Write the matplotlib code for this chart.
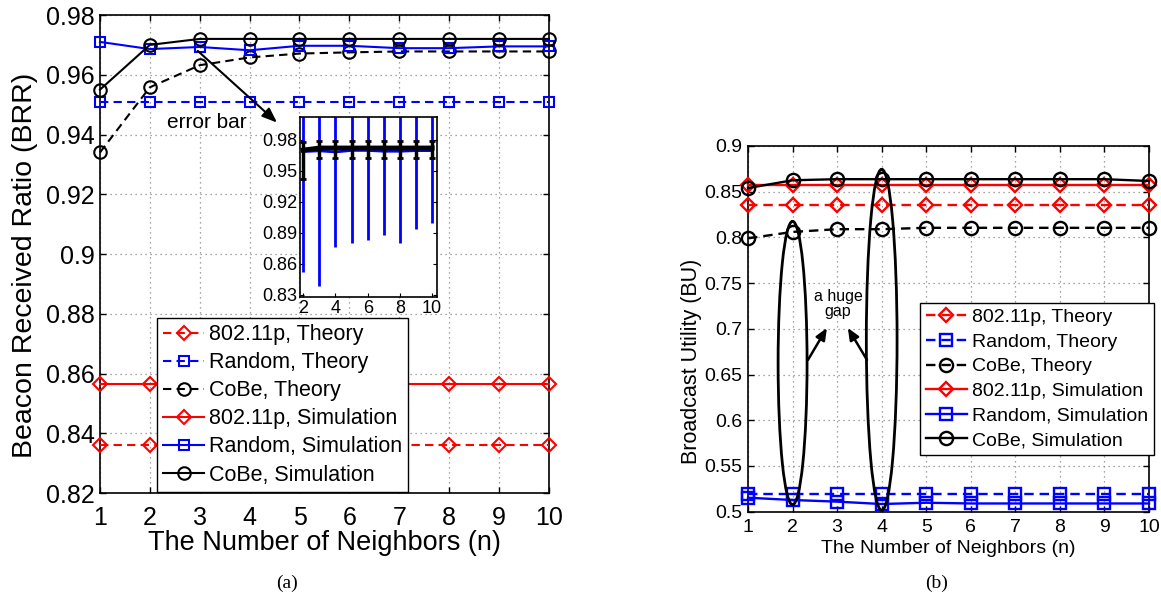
import numpy as np
import matplotlib.pyplot as plt
from matplotlib.patches import Ellipse

plt.rcParams['font.family'] = ['Liberation Sans', 'DejaVu Sans']

n = [1, 2, 3, 4, 5, 6, 7, 8, 9, 10]

# (a) Beacon Received Ratio
brr_p_theory = [0.836, 0.836, 0.836, 0.836, 0.836, 0.836, 0.836, 0.836, 0.836, 0.836]
brr_rand_theory = [0.951, 0.951, 0.951, 0.951, 0.951, 0.951, 0.951, 0.951, 0.951, 0.951]
brr_cobe_theory = [0.934, 0.9558, 0.9632, 0.9658, 0.9671, 0.9675, 0.9678, 0.9678, 0.9678, 0.9678]
brr_p_sim = [0.8565, 0.8565, 0.8565, 0.8565, 0.8565, 0.8565, 0.8565, 0.8565, 0.8565, 0.8565]
brr_rand_sim = [0.971, 0.9686, 0.9693, 0.9682, 0.9697, 0.9697, 0.9689, 0.9689, 0.9695, 0.9695]
brr_cobe_sim = [0.955, 0.970, 0.972, 0.972, 0.972, 0.972, 0.972, 0.972, 0.972, 0.972]

# inset error bars (n = 2..10)
n_err = [2, 3, 4, 5, 6, 7, 8, 9, 10]
rand_err = [0.116, 0.131, 0.092, 0.090, 0.087, 0.081, 0.089, 0.076, 0.070]
cobe_err_lo = [0.028, 0.010, 0.010, 0.010, 0.010, 0.010, 0.010, 0.010, 0.010]
cobe_err_hi = [0.008, 0.007, 0.007, 0.007, 0.007, 0.007, 0.007, 0.007, 0.007]

# (b) Broadcast Utility
bu_p_theory = [0.836, 0.836, 0.836, 0.836, 0.836, 0.836, 0.836, 0.836, 0.836, 0.836]
bu_rand_theory = [0.519, 0.519, 0.519, 0.519, 0.519, 0.519, 0.519, 0.519, 0.519, 0.519]
bu_cobe_theory = [0.799, 0.806, 0.809, 0.809, 0.8105, 0.8105, 0.8105, 0.8105, 0.8105, 0.8105]
bu_p_sim = [0.857, 0.857, 0.857, 0.857, 0.857, 0.857, 0.857, 0.857, 0.857, 0.857]
bu_rand_sim = [0.5153, 0.5128, 0.511, 0.5084, 0.5098, 0.509, 0.509, 0.509, 0.509, 0.509]
bu_cobe_sim = [0.854, 0.8625, 0.8637, 0.8637, 0.8637, 0.8637, 0.8637, 0.8637, 0.8637, 0.8617]

labels = ['802.11p, Theory', 'Random, Theory', 'CoBe, Theory',
          '802.11p, Simulation', 'Random, Simulation', 'CoBe, Simulation']

brr_yticks = [0.82, 0.84, 0.86, 0.88, 0.9, 0.92, 0.94, 0.96, 0.98]
brr_ylabels = ['0.82', '0.84', '0.86', '0.88', '0.9', '0.92', '0.94', '0.96', '0.98']
bu_yticks = [0.5, 0.55, 0.6, 0.65, 0.7, 0.75, 0.8, 0.85, 0.9]
bu_ylabels = ['0.5', '0.55', '0.6', '0.65', '0.7', '0.75', '0.8', '0.85', '0.9']
inset_yticks = [0.83, 0.86, 0.89, 0.92, 0.95, 0.98]

RED = '#ff0000'
BLUE = '#0000ff'
DASH = (0, (4, 2.5))


def draw_series(ax, data, ms, lw):
    styles = [(RED, 'D', DASH), (BLUE, 's', DASH), ('k', 'o', DASH),
              (RED, 'D', '-'), (BLUE, 's', '-'), ('k', 'o', '-')]
    for ys, (c, m, ls), lab in zip(data, styles, labels):
        msz = ms * 0.8 if m == 'D' else (ms * 0.85 if m == 's' else ms)
        ax.plot(n, ys, color=c, ls=ls, lw=lw, marker=m, ms=msz,
                mfc='none', mec=c, mew=lw, label=lab, clip_on=False, zorder=3)


def matlab_axes(ax, fs, xpad):
    ax.tick_params(direction='in', top=True, right=True, labelsize=fs,
                   length=4, width=1, pad=4)
    ax.tick_params(axis='x', pad=xpad)
    ax.grid(True, ls=(0, (1, 3)), color='#888888', lw=0.9)
    for s in ax.spines.values():
        s.set_linewidth(1.2)


fig = plt.figure(figsize=(11.61, 6.03), dpi=100)

# ---- (a) ----
ax1 = fig.add_axes([0.0861, 0.1824, 0.3867, 0.7927])
draw_series(ax1, [brr_p_theory, brr_rand_theory, brr_cobe_theory,
                  brr_p_sim, brr_rand_sim, brr_cobe_sim], ms=9, lw=1.5)
ax1.set_xlim(1, 10)
ax1.set_ylim(0.82, 0.98)
ax1.set_xticks(n)
ax1.set_yticks(brr_yticks)
ax1.set_yticklabels(brr_ylabels)
matlab_axes(ax1, 18, 9)
ax1.set_xlabel('The Number of Neighbors (n)', fontsize=19.5, labelpad=0)
ax1.set_ylabel('Beacon Received Ratio (BRR)', fontsize=20.5)
ax1.yaxis.set_label_coords(-0.137, 0.477)
leg1 = ax1.legend(loc='lower left', bbox_to_anchor=(0.127, 0.002), borderaxespad=0,
                  fontsize=15.5, fancybox=False, framealpha=1, edgecolor='k',
                  handlelength=1.9, labelspacing=0.33, borderpad=0.3, handletextpad=0.2)
leg1.get_frame().set_linewidth(1.0)
leg1.set_zorder(5)

ax1.annotate('', xy=(4.55, 0.944), xytext=(2.96, 0.968),
             arrowprops=dict(arrowstyle='-|>,head_length=0.9,head_width=0.35',
                             color='k', lw=1.5, shrinkA=0, shrinkB=0), zorder=6)
ax1.text(3.14, 0.944, 'error bar', fontsize=15, ha='center', va='center', zorder=6)

# inset
axi = fig.add_axes([0.2584, 0.5075, 0.118, 0.2985])
rand_mean = brr_rand_sim[1:]
cobe_mean = brr_cobe_sim[1:]
axi.errorbar(n_err, rand_mean, yerr=rand_err, color=BLUE, lw=2, elinewidth=2,
             capsize=0, zorder=2)
axi.errorbar(n_err, cobe_mean, yerr=[cobe_err_lo, cobe_err_hi], color='k', lw=3.5,
             elinewidth=2.5, capsize=2.5, capthick=2, zorder=3)
axi.set_xlim(1.8, 10.3)
axi.set_ylim(0.828, 1.002)
axi.set_xticks([2, 4, 6, 8, 10])
axi.set_yticks(inset_yticks)
axi.tick_params(direction='in', top=True, right=True, labelsize=13, length=3, pad=2)
for s in axi.spines.values():
    s.set_linewidth(1.2)

# ---- (b) ----
ax2 = fig.add_axes([0.6443, 0.1514, 0.3454, 0.6065])
draw_series(ax2, [bu_p_theory, bu_rand_theory, bu_cobe_theory,
                  bu_p_sim, bu_rand_sim, bu_cobe_sim], ms=9.5, lw=1.7)
ax2.set_xlim(1, 10)
ax2.set_ylim(0.5, 0.9)
ax2.set_xticks(n)
ax2.set_yticks(bu_yticks)
ax2.set_yticklabels(bu_ylabels)
matlab_axes(ax2, 14, 5)
ax2.set_xlabel('The Number of Neighbors (n)', fontsize=14, labelpad=3)
ax2.set_ylabel('Broadcast Utility (BU)', fontsize=15.5)
ax2.yaxis.set_label_coords(-0.115, 0.41)
leg2 = ax2.legend(loc='lower left', bbox_to_anchor=(0.429, 0.155), borderaxespad=0,
                  fontsize=14, fancybox=False, framealpha=1, edgecolor='k',
                  handlelength=2.1, labelspacing=0.36, borderpad=0.3, handletextpad=0.25)
leg2.get_frame().set_linewidth(1.0)
leg2.set_zorder(5)

ax2.add_patch(Ellipse((2.0, 0.6626), 0.65, 0.31, fill=False, ec='k', lw=2,
                      zorder=4, clip_on=False))
ax2.add_patch(Ellipse((4.0, 0.688), 0.69, 0.373, fill=False, ec='k', lw=2,
                      zorder=4, clip_on=False))
ax2.text(3.02, 0.727, 'a huge\ngap', fontsize=11.5, ha='center', va='center',
         linespacing=1.05, zorder=6)
arrow_kw = dict(arrowstyle='-|>,head_length=0.7,head_width=0.3', color='k', lw=1.8,
                shrinkA=0, shrinkB=0)
ax2.annotate('', xy=(2.77, 0.701), xytext=(2.345, 0.666), arrowprops=arrow_kw, zorder=6)
ax2.annotate('', xy=(3.24, 0.701), xytext=(3.67, 0.666), arrowprops=arrow_kw, zorder=6)

fig.text(287 / 1161, 1 - 583 / 603, '(a)', fontsize=14, family='Liberation Serif',
         ha='center', va='center')
fig.text(937 / 1161, 1 - 583 / 603, '(b)', fontsize=14, family='Liberation Serif',
         ha='center', va='center')

fig.savefig('out.png', dpi=100)
